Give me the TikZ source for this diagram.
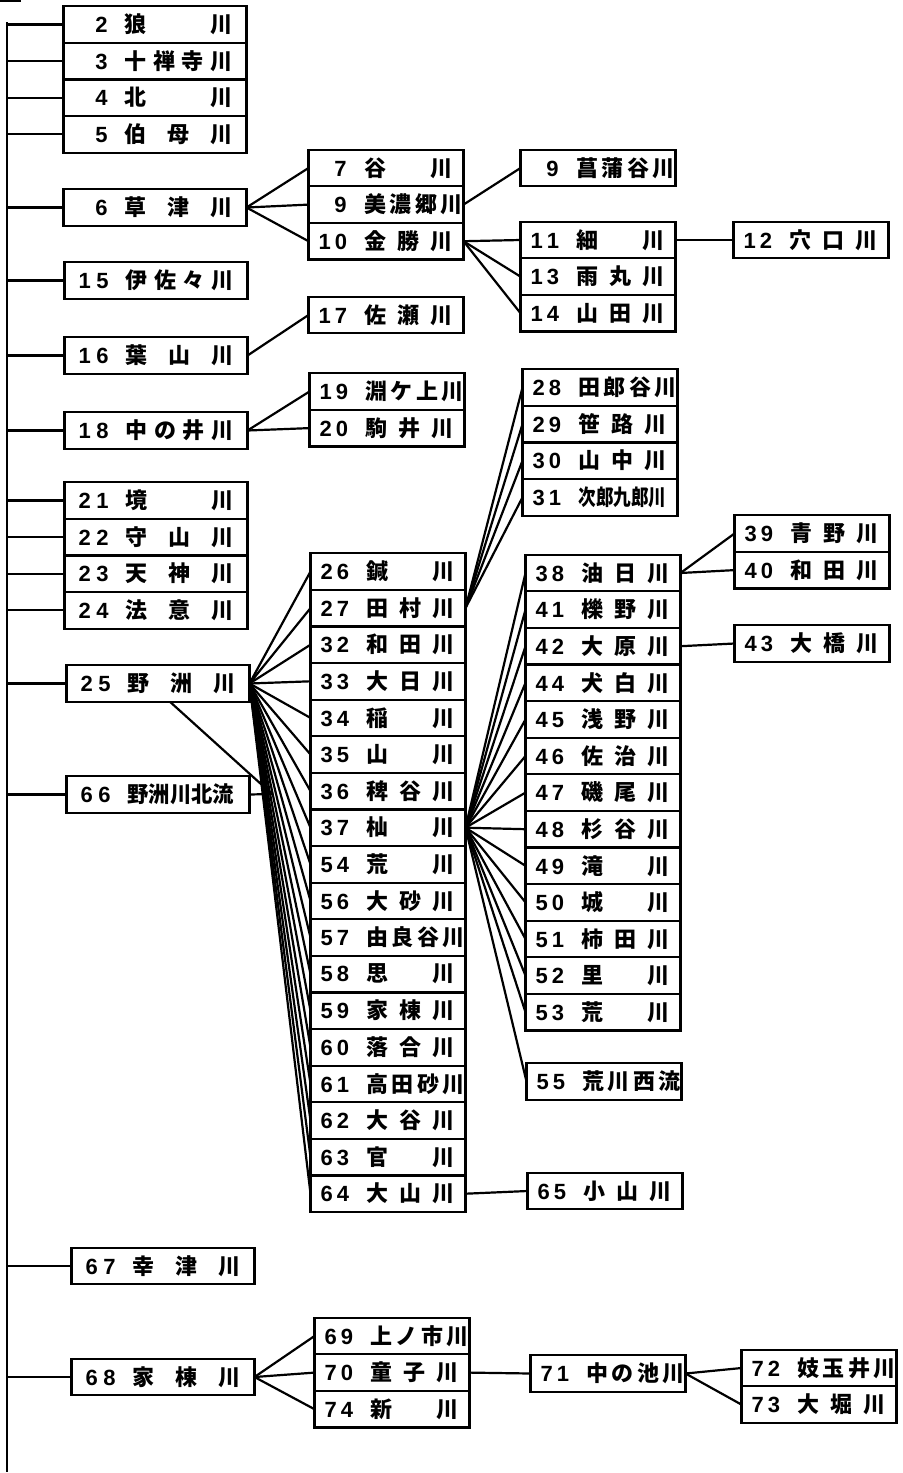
\documentclass[tikz,border=0pt]{standalone}
\usepackage{fontspec}
\usepackage{graphicx}
\newfontfamily\jpfont{Noto Sans CJK JP}
\newfontfamily\numfont{Liberation Sans}
\usepackage{tikz}
\usetikzlibrary{positioning}

% number left, name spread over the rest of the box
\newcommand{\lname}[2]{\makebox[91.5pt]{\hspace{7pt}\makebox[15pt][s]{\numfont\bfseries #1}\hfill\makebox[54pt][s]{#2}\hspace{7pt}}}
\newcommand{\rname}[2]{\makebox[77.5pt]{\hspace{5pt}\makebox[14pt][s]{\numfont\bfseries #1}\hfill\makebox[44pt][s]{#2}\hspace{5.5pt}}}

\begin{document}
\begin{tikzpicture}[
    x=0.5pt, y=-0.5pt, line width=1.1pt,
    every node/.style={font=\jpfont\bfseries\fontsize{11}{12}\selectfont},
    lbox/.style={draw, inner sep=0pt, outer sep=0pt, minimum width=91.5pt, minimum height=18.3pt},
    rbox/.style={draw, inner sep=0pt, outer sep=0pt, minimum width=77.5pt, minimum height=18.3pt}
]
\useasboundingbox (0,0) rectangle (902,1473);

% Trunk
\coordinate (tstub) at (0,1);
\coordinate (ttop) at (7,22);
\coordinate (tbot) at (7,1472);
\draw (tstub) -- ++(21,0);
\draw (ttop) -- (tbot);

% Column 1
\node (r2) [lbox] at (155,24.5) {\lname{\hfill 2}{狼 川}};
\node (r3) [lbox, below=0pt of r2] {\lname{\hfill 3}{十 禅 寺 川}};
\node (r4) [lbox, below=0pt of r3] {\lname{\hfill 4}{北 川}};
\node (r5) [lbox, below=0pt of r4] {\lname{\hfill 5}{伯 母 川}};
\node (r6) [lbox] at (155,207.5) {\lname{\hfill 6}{草 津 川}};
\node (r15) [lbox] at (156,280.5) {\lname{1 5}{伊 佐 々 川}};
\node (r16) [lbox] at (156,355.5) {\lname{1 6}{葉 山 川}};
\node (r18) [lbox] at (156,430.5) {\lname{1 8}{中 の 井 川}};
\node (r21) [lbox] at (156,500.5) {\lname{2 1}{境 川}};
\node (r22) [lbox, below=0pt of r21] {\lname{2 2}{守 山 川}};
\node (r23) [lbox, below=0pt of r22] {\lname{2 3}{天 神 川}};
\node (r24) [lbox, below=0pt of r23] {\lname{2 4}{法 意 川}};
\node (r25) [lbox] at (158,683.5) {\lname{2 5}{野 洲 川}};
\node (r66) [lbox] at (158,794.5) {\lname{6 6}{\scalebox{0.97}[1]{野洲川北流}}};
\node (r67) [lbox] at (163,1266) {\lname{6 7}{幸 津 川}};
\node (r68) [lbox] at (163,1377) {\lname{6 8}{家 棟 川}};

% Column 2
\node (r7) [rbox] at (386,168) {\rname{\hfill 7}{谷 川}};
\node (r9m) [rbox, below=0pt of r7] {\rname{\hfill 9}{美 濃 郷 川}};
\node (r10) [rbox, below=0pt of r9m] {\rname{1 0}{金 勝 川}};
\node (r17) [rbox] at (386,315) {\rname{1 7}{佐 瀬 川}};
\node (r19) [rbox] at (387,391.5) {\rname{1 9}{淵 ケ 上 川}};
\node (r20) [rbox, below=0pt of r19] {\rname{2 0}{駒 井 川}};
\node (r26) [rbox] at (388,571.5) {\rname{2 6}{鍼 川}};
\node (r27) [rbox, below=0pt of r26] {\rname{2 7}{田 村 川}};
\node (r32) [rbox, below=0pt of r27] {\rname{3 2}{和 田 川}};
\node (r33) [rbox, below=0pt of r32] {\rname{3 3}{大 日 川}};
\node (r34) [rbox, below=0pt of r33] {\rname{3 4}{稲 川}};
\node (r35) [rbox, below=0pt of r34] {\rname{3 5}{山 川}};
\node (r36) [rbox, below=0pt of r35] {\rname{3 6}{稗 谷 川}};
\node (r37) [rbox, below=0pt of r36] {\rname{3 7}{杣 川}};
\node (r54) [rbox, below=0pt of r37] {\rname{5 4}{荒 川}};
\node (r56) [rbox, below=0pt of r54] {\rname{5 6}{大 砂 川}};
\node (r57) [rbox, below=0pt of r56] {\rname{5 7}{由 良 谷 川}};
\node (r58) [rbox, below=0pt of r57] {\rname{5 8}{思 川}};
\node (r59) [rbox, below=0pt of r58] {\rname{5 9}{家 棟 川}};
\node (r60) [rbox, below=0pt of r59] {\rname{6 0}{落 合 川}};
\node (r61) [rbox, below=0pt of r60] {\rname{6 1}{高 田 砂 川}};
\node (r62) [rbox, below=0pt of r61] {\rname{6 2}{大 谷 川}};
\node (r63) [rbox, below=0pt of r62] {\rname{6 3}{官 川}};
\node (r64) [rbox, below=0pt of r63] {\rname{6 4}{大 山 川}};
\node (r69) [rbox] at (392,1336) {\rname{6 9}{上 ノ 市 川}};
\node (r70) [rbox, below=0pt of r69] {\rname{7 0}{童 子 川}};
\node (r74) [rbox, below=0pt of r70] {\rname{7 4}{新 川}};

% Column 3
\node (r9s) [rbox] at (598,168) {\rname{\hfill 9}{菖 蒲 谷 川}};
\node (r11) [rbox] at (598,240) {\rname{1 1}{細 川}};
\node (r13) [rbox, below=0pt of r11] {\rname{1 3}{雨 丸 川}};
\node (r14) [rbox, below=0pt of r13] {\rname{1 4}{山 田 川}};
\node (r28) [rbox] at (600,387.5) {\rname{2 8}{田 郎 谷 川}};
\node (r29) [rbox, below=0pt of r28] {\rname{2 9}{笹 路 川}};
\node (r30) [rbox, below=0pt of r29] {\rname{3 0}{山 中 川}};
\node (r31) [rbox, below=0pt of r30] {\rname{3 1}{\scalebox{0.8}[1]{次郎九郎川}}};
\node (r38) [rbox] at (603,573) {\rname{3 8}{油 日 川}};
\node (r41) [rbox, below=0pt of r38] {\rname{4 1}{櫟 野 川}};
\node (r42) [rbox, below=0pt of r41] {\rname{4 2}{大 原 川}};
\node (r44) [rbox, below=0pt of r42] {\rname{4 4}{犬 白 川}};
\node (r45) [rbox, below=0pt of r44] {\rname{4 5}{浅 野 川}};
\node (r46) [rbox, below=0pt of r45] {\rname{4 6}{佐 治 川}};
\node (r47) [rbox, below=0pt of r46] {\rname{4 7}{磯 尾 川}};
\node (r48) [rbox, below=0pt of r47] {\rname{4 8}{杉 谷 川}};
\node (r49) [rbox, below=0pt of r48] {\rname{4 9}{滝 川}};
\node (r50) [rbox, below=0pt of r49] {\rname{5 0}{城 川}};
\node (r51) [rbox, below=0pt of r50] {\rname{5 1}{柿 田 川}};
\node (r52) [rbox, below=0pt of r51] {\rname{5 2}{里 川}};
\node (r53) [rbox, below=0pt of r52] {\rname{5 3}{荒 川}};
\node (r55) [rbox] at (604,1081.5) {\rname{5 5}{荒 川 西 流}};
\node (r65) [rbox] at (605,1191) {\rname{6 5}{小 山 川}};
\node (r71) [rbox] at (608,1373.5) {\rname{7 1}{中 の 池 川}};

% Column 4
\node (r12) [rbox] at (811,240) {\rname{1 2}{穴 口 川}};
\node (r39) [rbox] at (812,533.5) {\rname{3 9}{青 野 川}};
\node (r40) [rbox, below=0pt of r39] {\rname{4 0}{和 田 川}};
\node (r43) [rbox] at (812,643.5) {\rname{4 3}{大 橋 川}};
\node (r72) [rbox] at (819,1368) {\rname{7 2}{妓 玉 井 川}};
\node (r73) [rbox, below=0pt of r72] {\rname{7 3}{大 堀 川}};

% Branches off the trunk
\draw (r2.west) -- (r2.west -| ttop);
\draw (r3.west) -- (r3.west -| ttop);
\draw (r4.west) -- (r4.west -| ttop);
\draw (r5.west) -- (r5.west -| ttop);
\draw (r6.west) -- (r6.west -| ttop);
\draw (r15.west) -- (r15.west -| ttop);
\draw (r16.west) -- (r16.west -| ttop);
\draw (r18.west) -- (r18.west -| ttop);
\draw (r21.west) -- (r21.west -| ttop);
\draw (r22.west) -- (r22.west -| ttop);
\draw (r23.west) -- (r23.west -| ttop);
\draw (r24.west) -- (r24.west -| ttop);
\draw (r25.west) -- (r25.west -| ttop);
\draw (r66.west) -- (r66.west -| ttop);
\draw (r67.west) -- (r67.west -| ttop);
\draw (r68.west) -- (r68.west -| ttop);

% Upper tributaries
\draw (r6.east) -- (r7.west);
\draw (r6.east) -- (r9m.west);
\draw (r6.east) -- (r10.west);
\draw (r9m.east) -- (r9s.west);
\draw (r10.east) -- (r11.west);
\draw (r10.east) -- (r13.west);
\draw (r10.east) -- (r14.west);
\draw (r11.east) -- (r12.west);
\draw (r16.east) -- (r17.west);
\draw (r18.east) -- (r19.west);
\draw (r18.east) -- (r20.west);

% Yasu river
\coordinate (j66) at (272,794);
\draw ([xshift=6pt]r25.south) -- (j66);
\draw (r66.east) -- (j66);
\draw (r25.east) -- (r26.west);
\draw (r25.east) -- (r27.west);
\draw (r25.east) -- (r32.west);
\draw (r25.east) -- (r33.west);
\draw (r25.east) -- (r34.west);
\draw (r25.east) -- (r35.west);
\draw (r25.east) -- (r36.west);
\draw (r25.east) -- (r37.west);
\draw (r25.east) -- (r54.west);
\draw (r25.east) -- (r56.west);
\draw (r25.east) -- (r57.west);
\draw (r25.east) -- (r58.west);
\draw (r25.east) -- (r59.west);
\draw (r25.east) -- (r60.west);
\draw (r25.east) -- (r61.west);
\draw (r25.east) -- (r62.west);
\draw (r25.east) -- (r63.west);
\draw (r25.east) -- (r64.west);
\draw (r27.east) -- (r28.west);
\draw (r27.east) -- (r29.west);
\draw (r27.east) -- (r30.west);
\draw (r27.east) -- (r31.west);

% Soma river
\draw (r37.east) -- (r38.west);
\draw (r37.east) -- (r41.west);
\draw (r37.east) -- (r42.west);
\draw (r37.east) -- (r44.west);
\draw (r37.east) -- (r45.west);
\draw (r37.east) -- (r46.west);
\draw (r37.east) -- (r47.west);
\draw (r37.east) -- (r48.west);
\draw (r37.east) -- (r49.west);
\draw (r37.east) -- (r50.west);
\draw (r37.east) -- (r51.west);
\draw (r37.east) -- (r52.west);
\draw (r37.east) -- (r53.west);
\draw (r37.east) -- (r55.west);
\draw (r38.east) -- (r39.west);
\draw (r38.east) -- (r40.west);
\draw (r42.east) -- (r43.west);
\draw (r64.east) -- (r65.west);

% Lower tributaries
\draw (r68.east) -- (r69.west);
\draw (r68.east) -- (r70.west);
\draw (r68.east) -- (r74.west);
\draw (r70.east) -- (r71.west);
\draw (r71.east) -- (r72.west);
\draw (r71.east) -- (r73.west);
\end{tikzpicture}
\end{document}
